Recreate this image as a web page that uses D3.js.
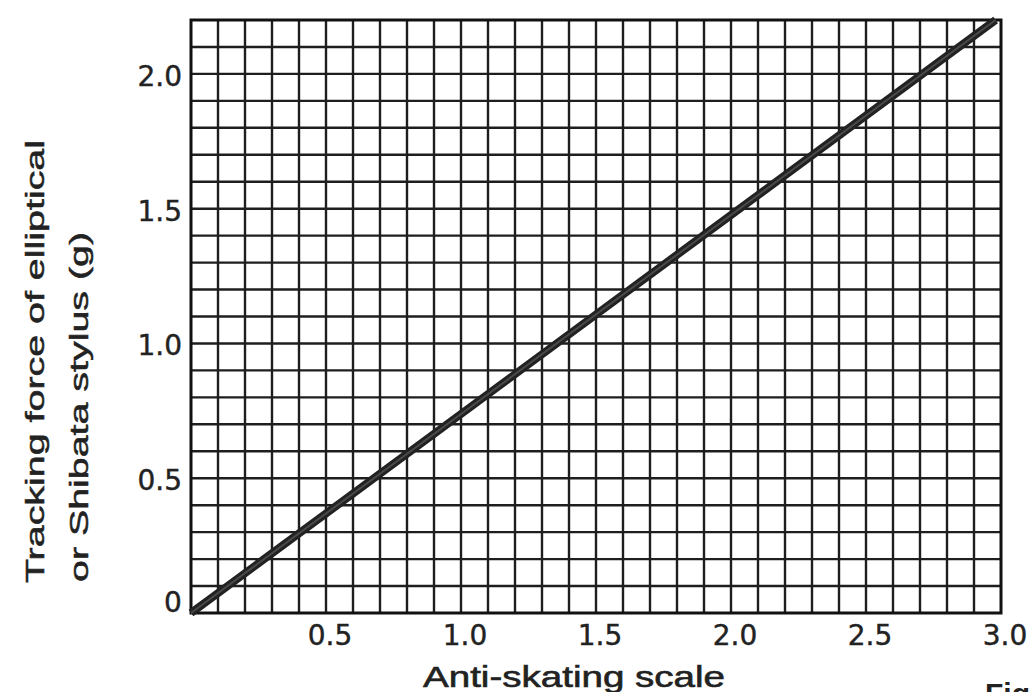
<!DOCTYPE html>
<html>
<head>
<meta charset="utf-8">
<script src="https://d3js.org/d3.v7.min.js"></script>
<style>
  body { margin: 0; background: #fff; }
  text { fill: #222; }
</style>
</head>
<body>
<svg id="chart" width="1031" height="692"></svg>
<script>
// values
var xTicks = [0.5, 1.0, 1.5, 2.0, 2.5, 3.0];
var xTickLabels = ["0.5", "1.0", "1.5", "2.0", "2.5", "3.0"];
var yTicks = [0.5, 1.0, 1.5, 2.0];
var yTickLabels = ["0.5", "1.0", "1.5", "2.0"];
var lineX = [0, 2.98];
var lineY = [0, 2.2];

var plotLeft = 191, plotRight = 1001, plotTop = 20, plotBottom = 613;

var svg = d3.select("#chart");

var x = d3.scaleLinear().domain([0, 3.0]).range([plotLeft, plotRight]);
var y = d3.scaleLinear().domain([0, 2.2]).range([plotBottom, plotTop]);

// fine grid every 0.1
var grid = svg.append("g").attr("stroke", "#1e1e1e").attr("stroke-width", 2.4);
grid.selectAll("line.v")
  .data(d3.range(1, 30).map(function(i) { return i / 10; }))
  .enter().append("line")
  .attr("class", "v")
  .attr("x1", function(d) { return x(d); })
  .attr("x2", function(d) { return x(d); })
  .attr("y1", plotTop).attr("y2", plotBottom);
grid.selectAll("line.h")
  .data(d3.range(1, 22).map(function(i) { return i / 10; }))
  .enter().append("line")
  .attr("class", "h")
  .attr("y1", function(d) { return y(d); })
  .attr("y2", function(d) { return y(d); })
  .attr("x1", plotLeft).attr("x2", plotRight);

// frame
svg.append("rect")
  .attr("x", plotLeft).attr("y", plotTop)
  .attr("width", plotRight - plotLeft).attr("height", plotBottom - plotTop)
  .attr("fill", "none").attr("stroke", "#111").attr("stroke-width", 3);

// the line
var pts = lineX.map(function(d, i) { return [d, lineY[i]]; });
var line = d3.line().x(function(d) { return x(d[0]); }).y(function(d) { return y(d[1]); });
svg.append("path").datum(pts)
  .attr("d", line)
  .attr("fill", "none").attr("stroke", "#222").attr("stroke-width", 8);
svg.append("path").datum(pts)
  .attr("d", line)
  .attr("fill", "none").attr("stroke", "#4a4a4a").attr("stroke-width", 2);

// tick labels
var tickFont = "'DejaVu Sans', sans-serif";
svg.append("g").selectAll("text")
  .data(xTicks)
  .enter().append("text")
  .attr("x", function(d) { return x(d) + 4; })
  .attr("y", 645)
  .attr("text-anchor", "middle")
  .style("font-family", tickFont).style("font-size", "28px")
  .style("stroke", "#222").style("stroke-width", "0.4px")
  .text(function(d, i) { return xTickLabels[i]; });

svg.append("g").selectAll("text")
  .data(yTicks)
  .enter().append("text")
  .attr("x", 182)
  .attr("y", function(d) { return y(d) + 12; })
  .attr("text-anchor", "end")
  .style("font-family", tickFont).style("font-size", "28px")
  .style("stroke", "#222").style("stroke-width", "0.4px")
  .text(function(d, i) { return yTickLabels[i]; });

svg.append("text")
  .attr("x", 173).attr("y", 612)
  .attr("text-anchor", "middle")
  .style("font-family", tickFont).style("font-size", "28px")
  .style("stroke", "#222").style("stroke-width", "0.4px")
  .text("0");

// axis titles
var titleFont = "'Liberation Sans', Arial, sans-serif";
svg.append("text")
  .attr("x", 423).attr("y", 687)
  .attr("textLength", 302).attr("lengthAdjust", "spacingAndGlyphs")
  .style("font-family", titleFont).style("font-size", "29px")
  .style("stroke", "#222").style("stroke-width", "0.6px")
  .text("Anti-skating scale");

svg.append("text")
  .attr("transform", "translate(44,583) rotate(-90)")
  .attr("textLength", 443).attr("lengthAdjust", "spacingAndGlyphs")
  .style("font-family", titleFont).style("font-size", "26px")
  .style("stroke", "#222").style("stroke-width", "0.5px")
  .text("Tracking force of elliptical");
svg.append("text")
  .attr("transform", "translate(88,582) rotate(-90)")
  .attr("textLength", 350).attr("lengthAdjust", "spacingAndGlyphs")
  .style("font-family", titleFont).style("font-size", "26px")
  .style("stroke", "#222").style("stroke-width", "0.5px")
  .text("or Shibata  stylus (g)");

svg.append("text")
  .attr("x", 985).attr("y", 704)
  .style("font-family", titleFont).style("font-size", "30px")
  .style("font-weight", "bold")
  .text("Fig");
</script>
</body>
</html>
